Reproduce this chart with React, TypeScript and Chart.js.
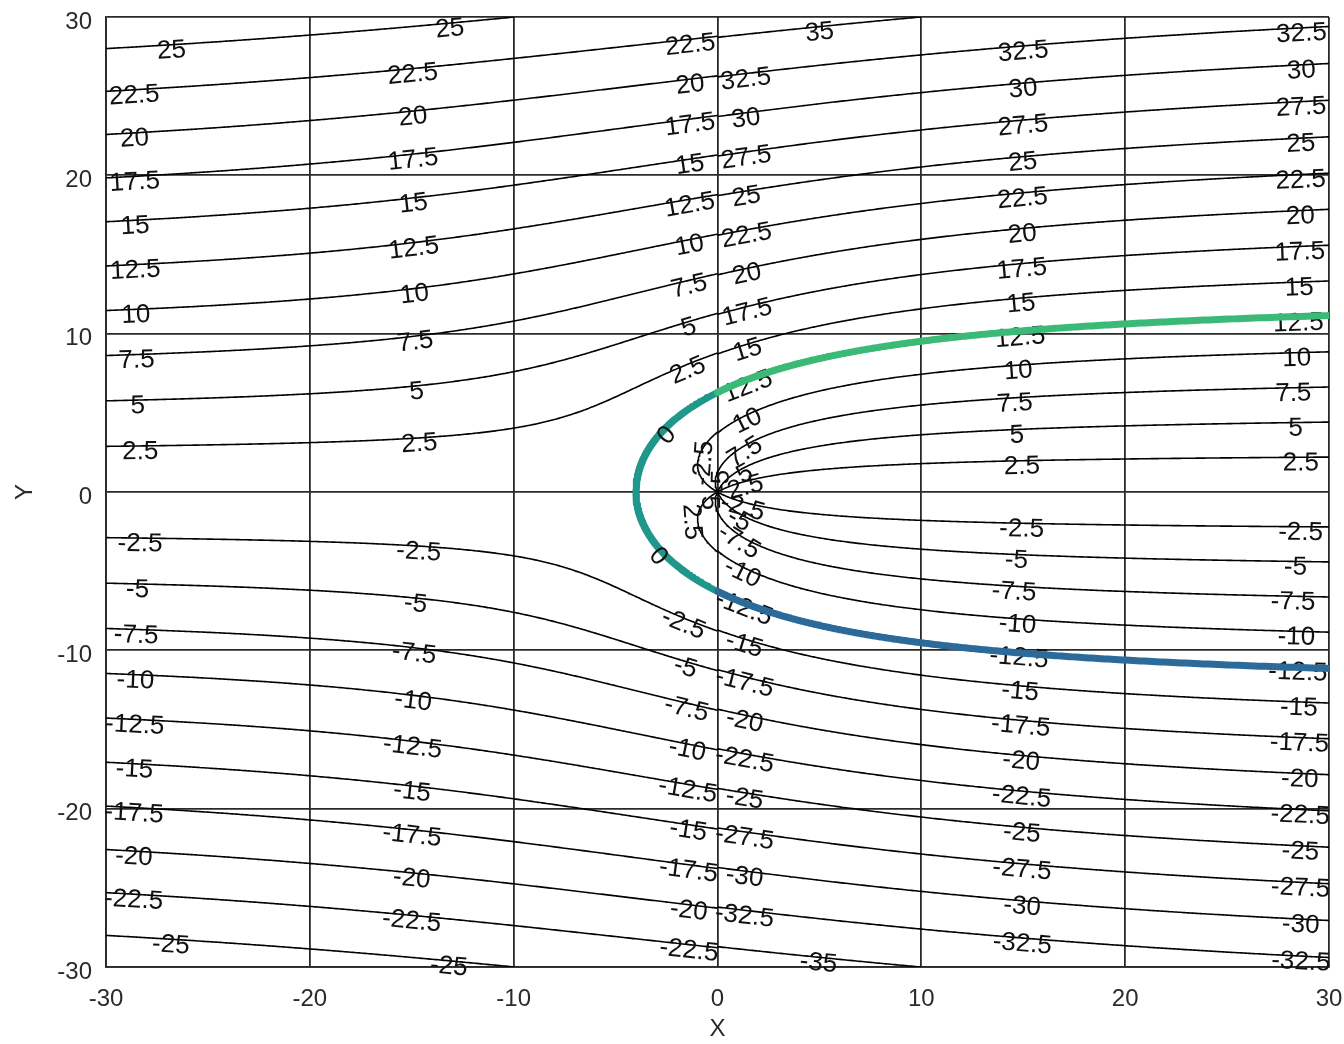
import React, { useEffect, useRef } from "react";
import { Chart, registerables } from "chart.js";

Chart.register(...registerables);

// ---------------- data ----------------
const X_TICKS = [-30, -20, -10, 0, 10, 20, 30];
const Y_TICKS = [-30, -20, -10, 0, 10, 20, 30];
const X_RANGE = [-30, 30];
const Y_RANGE = [-30, 30];
const X_TITLE = "X";
const Y_TITLE = "Y";
const CONTOUR_LEVELS = [
  -35, -32.5, -30, -27.5, -25, -22.5, -20, -17.5, -15, -12.5, -10, -7.5, -5, -2.5,
  2.5, 5, 7.5, 10, 12.5, 15, 17.5, 20, 22.5, 25, 27.5, 30, 32.5, 35,
];
// stream function psi = U*y + K*atan(y/x): stagnation point at x = -K (read: -4)
const FREE_STREAM_SPEED = 1;
const SOURCE_STRENGTH = 4;
// thick dividing stream line (half body), three pieces given by polar angle ranges
const BODY_UPPER_ANGLES = [0.3, Math.PI / 2];
const BODY_NOSE_ANGLES = [Math.PI / 2, (3 * Math.PI) / 2];
const BODY_LOWER_ANGLES = [(3 * Math.PI) / 2, 2 * Math.PI - 0.3];
const NOSE_LABEL = "0";

// ---------------- styles ----------------
const FONT = '"Liberation Sans", Arial, Helvetica, sans-serif';
const TICK_FONT_SIZE = 24;
const LABEL_FONT_SIZE = 26;
const TEXT_COLOR = "#2b2b2b";
const LABEL_COLOR = "#111111";
const GRID_COLOR = "#2a2a2a";
const LINE_COLOR = "#000000";
const BODY_COLORS = { upper: "#3aba76", nose: "#1f988b", lower: "#2c6a9a" };
const LABEL_SPACING = 279; // px along a line
const LABEL_SHIFT = 6;
const GRID_STEP = 0.1;

type Pt = { x: number; y: number };
type Piece = { level: number; points: Pt[] };

function streamFunction(x: number, y: number, side: number): number {
  const U = FREE_STREAM_SPEED;
  const K = SOURCE_STRENGTH;
  if (x === 0) {
    if (y === 0) return 0;
    return U * y + K * side * Math.sign(y) * (Math.PI / 2);
  }
  return U * y + K * Math.atan(y / x);
}

function buildGrid(x0: number, x1: number, y0: number, y1: number, side: number) {
  const nx = Math.round((x1 - x0) / GRID_STEP) + 1;
  const ny = Math.round((y1 - y0) / GRID_STEP) + 1;
  const xs: number[] = [];
  const ys: number[] = [];
  for (let i = 0; i < nx; i++) xs.push(x0 + ((x1 - x0) * i) / (nx - 1));
  for (let j = 0; j < ny; j++) ys.push(y0 + ((y1 - y0) * j) / (ny - 1));
  const v = new Float64Array(nx * ny);
  for (let j = 0; j < ny; j++)
    for (let i = 0; i < nx; i++) v[j * nx + i] = streamFunction(xs[i], ys[j], side);
  return { xs, ys, nx, ny, v };
}

function traceLevel(g: ReturnType<typeof buildGrid>, level: number): Pt[][] {
  const { xs, ys, nx, ny, v } = g;
  const segA: number[] = [];
  const segB: number[] = [];
  const hKey = (i: number, j: number) => (j * nx + i) * 2;
  const vKey = (i: number, j: number) => (j * nx + i) * 2 + 1;
  for (let j = 0; j < ny - 1; j++) {
    for (let i = 0; i < nx - 1; i++) {
      const v00 = v[j * nx + i];
      const v10 = v[j * nx + i + 1];
      const v01 = v[(j + 1) * nx + i];
      const v11 = v[(j + 1) * nx + i + 1];
      const b0 = v00 >= level ? 1 : 0;
      const b1 = v10 >= level ? 1 : 0;
      const b2 = v11 >= level ? 1 : 0;
      const b3 = v01 >= level ? 1 : 0;
      const c = b0 | (b1 << 1) | (b2 << 2) | (b3 << 3);
      if (c === 0 || c === 15) continue;
      const e0 = hKey(i, j);
      const e1 = vKey(i + 1, j);
      const e2 = hKey(i, j + 1);
      const e3 = vKey(i, j);
      if (c === 5 || c === 10) {
        const centerAbove = (v00 + v10 + v11 + v01) / 4 >= level;
        const pairA = (c === 5) === centerAbove;
        if (pairA) {
          segA.push(e0); segB.push(e1);
          segA.push(e2); segB.push(e3);
        } else {
          segA.push(e3); segB.push(e0);
          segA.push(e1); segB.push(e2);
        }
        continue;
      }
      const es: number[] = [];
      if (b0 !== b1) es.push(e0);
      if (b1 !== b2) es.push(e1);
      if (b2 !== b3) es.push(e2);
      if (b3 !== b0) es.push(e3);
      if (es.length === 2) {
        segA.push(es[0]);
        segB.push(es[1]);
      }
    }
  }
  const pointOf = (key: number): Pt => {
    const idx = key >> 1;
    const horiz = (key & 1) === 0;
    const i = idx % nx;
    const j = Math.floor(idx / nx);
    const va = v[j * nx + i];
    if (horiz) {
      const vb = v[j * nx + i + 1];
      const t = (level - va) / (vb - va);
      return { x: xs[i] + t * (xs[i + 1] - xs[i]), y: ys[j] };
    }
    const vb = v[(j + 1) * nx + i];
    const t = (level - va) / (vb - va);
    return { x: xs[i], y: ys[j] + t * (ys[j + 1] - ys[j]) };
  };
  const adj = new Map<number, number[]>();
  for (let s = 0; s < segA.length; s++) {
    for (const k of [segA[s], segB[s]]) {
      const l = adj.get(k);
      if (l) l.push(s);
      else adj.set(k, [s]);
    }
  }
  const used = new Uint8Array(segA.length);
  const extend = (list: number[], start: number) => {
    let cur = start;
    for (;;) {
      const cands = adj.get(cur) || [];
      let next = -1;
      for (const t of cands) if (!used[t]) { next = t; break; }
      if (next < 0) break;
      used[next] = 1;
      cur = segA[next] === cur ? segB[next] : segA[next];
      list.push(cur);
    }
  };
  const lines: Pt[][] = [];
  for (let s = 0; s < segA.length; s++) {
    if (used[s]) continue;
    used[s] = 1;
    const fwd = [segA[s], segB[s]];
    extend(fwd, segB[s]);
    const back: number[] = [];
    extend(back, segA[s]);
    const keys = back.reverse().concat(fwd);
    lines.push(keys.map(pointOf));
  }
  return lines;
}

function bodyPiece(range: number[]): Pt[] {
  const K = SOURCE_STRENGTH / FREE_STREAM_SPEED;
  const pts: Pt[] = [];
  const n = 400;
  for (let k = 0; k <= n; k++) {
    const th = range[0] + ((range[1] - range[0]) * k) / n;
    const s = Math.sin(th);
    const r = Math.abs(Math.PI - th) < 1e-6 ? K : (K * (Math.PI - th)) / s;
    pts.push({ x: r * Math.cos(th), y: r * Math.sin(th) });
  }
  return pts;
}

function buildGeometry() {
  const left = buildGrid(X_RANGE[0], 0, Y_RANGE[0], Y_RANGE[1], -1);
  const right = buildGrid(0, X_RANGE[1], Y_RANGE[0], Y_RANGE[1], 1);
  const thin: Piece[] = [];
  for (const g of [left, right]) {
    for (const level of CONTOUR_LEVELS) {
      for (const line of traceLevel(g, level)) {
        if (line.length >= 2) thin.push({ level, points: line });
      }
    }
  }
  return {
    thin,
    upper: bodyPiece(BODY_UPPER_ANGLES),
    nose: bodyPiece(BODY_NOSE_ANGLES),
    lower: bodyPiece(BODY_LOWER_ANGLES),
  };
}

function drawLabels(chart: Chart, pieces: { text: string; points: Pt[] }[], mode: "spread" | "quarter") {
  const ctx = chart.ctx;
  const sx = chart.scales.x;
  const sy = chart.scales.y;
  ctx.save();
  ctx.font = `${LABEL_FONT_SIZE}px ${FONT}`;
  ctx.fillStyle = LABEL_COLOR;
  ctx.textAlign = "center";
  ctx.textBaseline = "middle";
  for (const piece of pieces) {
    const px = piece.points.map((p) => ({ x: sx.getPixelForValue(p.x), y: sy.getPixelForValue(p.y) }));
    const cum = [0];
    for (let k = 1; k < px.length; k++)
      cum.push(cum[k - 1] + Math.hypot(px[k].x - px[k - 1].x, px[k].y - px[k - 1].y));
    const L = cum[cum.length - 1];
    if (L < 14) continue;
    const at = (s: number) => {
      let lo = 0;
      let hi = cum.length - 1;
      while (hi - lo > 1) {
        const mid = (lo + hi) >> 1;
        if (cum[mid] <= s) lo = mid;
        else hi = mid;
      }
      const seg = cum[hi] - cum[lo] || 1;
      const t = Math.min(1, Math.max(0, (s - cum[lo]) / seg));
      return { x: px[lo].x + t * (px[hi].x - px[lo].x), y: px[lo].y + t * (px[hi].y - px[lo].y) };
    };
    let positions: number[];
    if (mode === "spread") {
      const n = Math.max(1, Math.ceil(L / LABEL_SPACING));
      const off = (L - (n - 1) * LABEL_SPACING) / 2;
      positions = [];
      for (let i = 0; i < n; i++) positions.push(off + i * LABEL_SPACING);
    } else {
      positions = [L / 4, (3 * L) / 4];
    }
    for (const s of positions) {
      const p = at(s);
      const a = at(Math.max(0, s - 8));
      const b = at(Math.min(L, s + 8));
      let ang = Math.atan2(b.y - a.y, b.x - a.x);
      if (ang > Math.PI / 2) ang -= Math.PI;
      if (ang < -Math.PI / 2) ang += Math.PI;
      ctx.save();
      ctx.translate(p.x, p.y);
      ctx.rotate(ang);
      ctx.fillText(piece.text, 0, LABEL_SHIFT);
      ctx.restore();
    }
  }
  ctx.restore();
}

export default function App() {
  const ref = useRef<HTMLCanvasElement>(null);
  useEffect(() => {
    const canvas = ref.current;
    if (!canvas) return;
    const geo = buildGeometry();
    const thinLabelPieces = geo.thin.map((p) => ({ text: String(p.level), points: p.points }));
    const noseLabelPieces = [{ text: NOSE_LABEL, points: geo.nose }];

    const thick = (data: Pt[], color: string) => ({
      data,
      borderColor: color,
      borderWidth: 7,
      borderJoinStyle: "round",
      pointRadius: 0,
      fill: false,
      tension: 0,
      clip: 0,
    });
    const datasets: any[] = [
      thick(geo.lower, BODY_COLORS.lower),
      thick(geo.upper, BODY_COLORS.upper),
      thick(geo.nose, BODY_COLORS.nose),
      ...geo.thin.map((p) => ({
        data: p.points,
        borderColor: LINE_COLOR,
        borderWidth: 1.6,
        pointRadius: 0,
        fill: false,
        tension: 0,
      })),
    ];

    const labelPlugin = {
      id: "contourLabels",
      beforeDatasetDraw(chart: Chart, args: any) {
        if (args.index === 2) drawLabels(chart, thinLabelPieces, "spread");
      },
      afterDatasetsDraw(chart: Chart) {
        drawLabels(chart, noseLabelPieces, "quarter");
      },
    };

    const zeroPad = (s: any) => {
      s.paddingTop = 0;
      s.paddingBottom = 0;
      s.paddingLeft = 0;
      s.paddingRight = 0;
    };

    const tickFont = { family: FONT, size: TICK_FONT_SIZE };
    const chart = new Chart(canvas, {
      type: "line",
      data: { datasets },
      options: {
        responsive: false,
        devicePixelRatio: 1,
        animation: false,
        events: [],
        parsing: false,
        layout: { padding: { top: 17, right: 15, left: 0, bottom: 0 } },
        plugins: { legend: { display: false }, tooltip: { enabled: false } },
        scales: {
          x: {
            type: "linear",
            min: X_RANGE[0],
            max: X_RANGE[1],
            afterBuildTicks: (s: any) => {
              s.ticks = X_TICKS.map((value) => ({ value }));
            },
            afterFit: (s: any) => {
              s.height = 77;
              zeroPad(s);
            },
            ticks: { font: tickFont, color: TEXT_COLOR, padding: 18, maxRotation: 0, autoSkip: false },
            grid: { color: GRID_COLOR, lineWidth: 1.8, drawTicks: false },
            border: { color: GRID_COLOR, width: 1.8 },
            title: { display: true, text: X_TITLE, font: tickFont, color: TEXT_COLOR, padding: { top: 0, bottom: 0 } },
          },
          y: {
            type: "linear",
            min: Y_RANGE[0],
            max: Y_RANGE[1],
            afterBuildTicks: (s: any) => {
              s.ticks = Y_TICKS.map((value) => ({ value }));
            },
            afterFit: (s: any) => {
              s.width = 106;
              zeroPad(s);
            },
            ticks: { font: tickFont, color: TEXT_COLOR, padding: 14, labelOffset: 5, autoSkip: false },
            grid: { color: GRID_COLOR, lineWidth: 1.8, drawTicks: false },
            border: { color: GRID_COLOR, width: 1.8 },
            title: { display: true, text: Y_TITLE, font: tickFont, color: TEXT_COLOR, padding: { top: 11, bottom: 0 } },
          },
        },
      } as any,
      plugins: [labelPlugin],
    });
    return () => chart.destroy();
  }, []);
  return (
    <div style={{ position: "fixed", left: 0, top: 0, width: 1344, height: 1044, background: "#fff" }}>
      <canvas ref={ref} width={1344} height={1044} style={{ display: "block", width: 1344, height: 1044 }} />
    </div>
  );
}
